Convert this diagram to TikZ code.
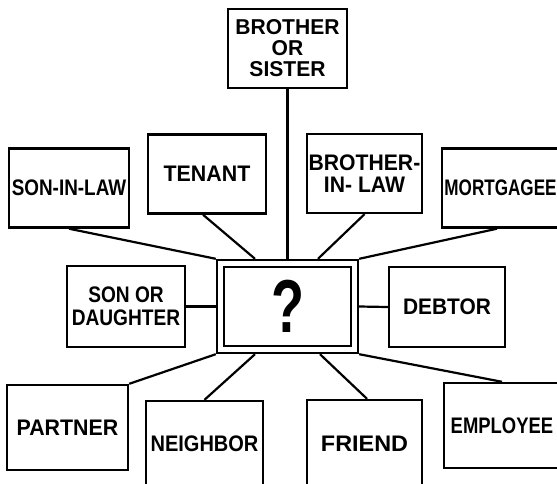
\documentclass[tikz,border=0pt]{standalone}
\usepackage{fontspec}
\setmainfont{Liberation Sans}
\usetikzlibrary{fit}
\newcommand\sx[2]{\scalebox{#1}[1]{#2}}
\tikzset{
  box/.style={draw, line width=2.4pt, inner sep=0pt, align=center,
    font=\bfseries\fontsize{22.5}{22}\selectfont},
  conn/.style={line width=2.2pt},
}
\begin{document}
\begin{tikzpicture}[x=1pt, y=-1pt]
\path[use as bounding box, clip] (0,0) rectangle (557,483);
\fill[white] (0,0) rectangle (557,483);
% nodes
\node[box, minimum width=119pt, minimum height=79pt, font=\bfseries\fontsize{21.5}{21}\selectfont] (bos) at (287.5,48.5) {\sx{0.98}{BROTHER}\\\sx{0.98}{OR}\\\sx{0.98}{SISTER}};
\node[box, minimum width=120pt, minimum height=79pt] (sil) at (69,188) {\sx{0.84}{SON-IN-LAW}};
\node[box, minimum width=118pt, minimum height=79pt] (ten) at (207,174) {\sx{0.95}{TENANT}};
\node[box, minimum width=115pt, minimum height=79pt] (bil) at (364.5,173.5) {\sx{0.94}{BROTHER-}\\\sx{0.94}{IN- LAW}};
\node[box, minimum width=117pt, minimum height=79pt] (mor) at (500.5,188) {\sx{0.76}{MORTGAGEE}};
\node[box, minimum width=118pt, minimum height=81pt, font=\bfseries\fontsize{22.5}{23}\selectfont] (sod) at (126,306.5) {\sx{0.85}{SON OR}\\\sx{0.85}{DAUGHTER}};
\node[box, minimum width=127pt, minimum height=79pt, line width=2.2pt, font=\bfseries\fontsize{75}{75}\selectfont] (q) at (287.5,306.5) {\sx{0.72}{?}};
\node[draw, line width=2.2pt, fit=(q), inner sep=6pt] (qo) {};
\node[box, minimum width=116pt, minimum height=80pt] (deb) at (447,307) {\sx{0.93}{DEBTOR}};
\node[box, minimum width=121pt, minimum height=85pt] (par) at (67.5,427.5) {\sx{0.95}{PARTNER}};
\node[box, minimum width=117pt, minimum height=86pt] (nei) at (204.5,444) {\sx{0.89}{NEIGHBOR}};
\node[box, minimum width=115pt, minimum height=87pt] (fri) at (364.5,443.5) {\sx{1.04}{FRIEND}};
\node[box, minimum width=116pt, minimum height=85pt] (emp) at (502,425.5) {\sx{0.82}{EMPLOYEE}};
% connectors
\draw[conn] (bos.south) -- (qo.north);
\draw[conn] (sil.south) -- (qo.north west);
\draw[conn] ([xshift=-4pt]ten.south) -- ([xshift=-32.5pt]qo.north);
\draw[conn] (bil.south) -- ([xshift=30.5pt]qo.north);
\draw[conn] ([xshift=-3.5pt]mor.south) -- (qo.north east);
\draw[conn] (sod.east) -- (qo.west);
\draw[conn] (deb.west) -- (qo.east);
\draw[conn] (par.north east) -- (qo.south west);
\draw[conn] (nei.north) -- ([xshift=-32.5pt]qo.south);
\draw[conn] ([xshift=2.5pt]fri.north) -- ([xshift=32.5pt]qo.south);
\draw[conn] (emp.north) -- (qo.south east);
\end{tikzpicture}
\end{document}
